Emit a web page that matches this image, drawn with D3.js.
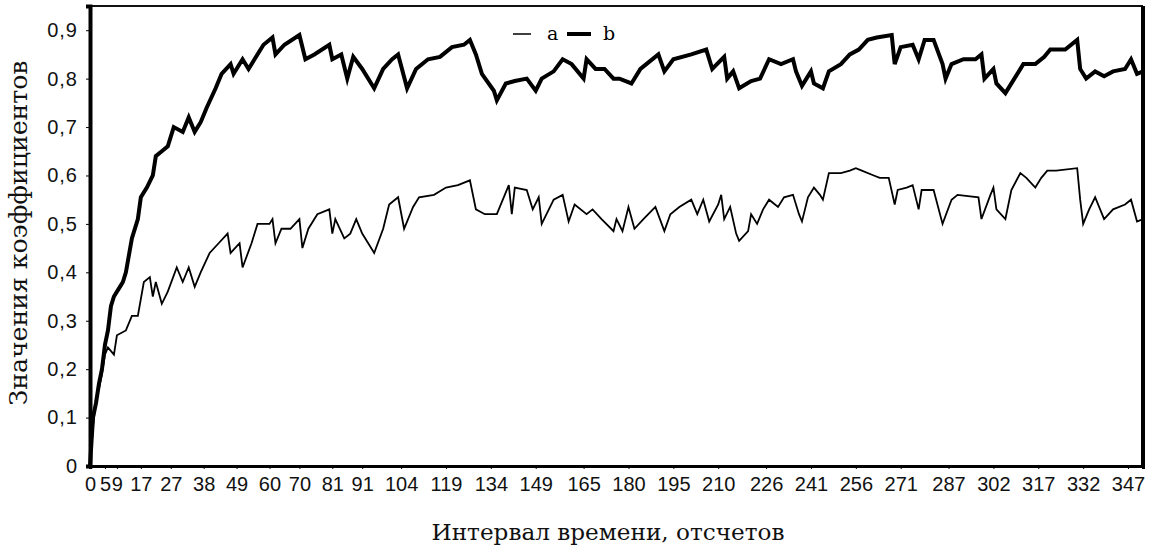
<!DOCTYPE html>
<html>
<head>
<meta charset="utf-8">
<script src="https://cdn.jsdelivr.net/npm/d3@7"></script>
<style>
  body { margin: 0; background: #fff; }
</style>
</head>
<body>
<div id="chart"></div>
<script>
// series "a" (thin line): sample number and coefficient value
const sampleA = [0,1,2,3,4,5,6,8,9,12,14,16,18,20,21,22,24,26,29,31,33,35,37,40,43,46,47,50,51,54,56,60,61,62,64,67,70,71,73,76,80,81,82,85,87,89,91,95,98,100,103,105,108,110,115,119,123,127,129,132,136,138,140,141,142,146,148,150,151,155,158,160,162,166,168,171,175,176,178,180,182,185,189,192,194,197,201,203,205,207,210,211,212,214,216,217,220,221,223,225,227,230,232,235,237,238,240,242,244,245,247,251,254,256,258,262,264,267,269,270,273,275,277,278,282,285,288,290,297,298,301,302,303,306,308,311,313,316,318,320,323,330,331,332,334,336,339,342,346,348,350,352];
const valuesA = [0,0.08,0.14,0.16,0.19,0.23,0.245,0.23,0.27,0.28,0.31,0.31,0.38,0.39,0.35,0.38,0.335,0.36,0.41,0.38,0.41,0.37,0.40,0.44,0.46,0.48,0.44,0.46,0.41,0.46,0.50,0.50,0.51,0.46,0.49,0.49,0.51,0.45,0.49,0.52,0.53,0.48,0.51,0.47,0.48,0.51,0.48,0.44,0.49,0.54,0.555,0.49,0.535,0.555,0.56,0.575,0.58,0.59,0.53,0.52,0.52,0.55,0.58,0.52,0.575,0.57,0.53,0.555,0.50,0.55,0.56,0.505,0.54,0.52,0.53,0.51,0.485,0.51,0.485,0.535,0.49,0.51,0.535,0.485,0.52,0.535,0.55,0.52,0.55,0.505,0.54,0.56,0.51,0.535,0.48,0.465,0.485,0.52,0.50,0.53,0.55,0.535,0.555,0.56,0.52,0.505,0.555,0.575,0.56,0.55,0.605,0.605,0.61,0.615,0.61,0.60,0.595,0.595,0.54,0.57,0.575,0.58,0.53,0.57,0.57,0.50,0.55,0.56,0.555,0.51,0.56,0.575,0.53,0.51,0.57,0.605,0.595,0.575,0.595,0.61,0.61,0.615,0.55,0.50,0.53,0.555,0.51,0.53,0.54,0.55,0.505,0.51];

// series "b" (thick line)
const sampleB = [0,1,2,3,4,5,6,7,8,10,11,12,14,16,17,19,21,22,24,26,28,31,33,35,37,39,42,44,47,48,51,53,55,58,61,62,65,70,72,75,80,81,84,86,88,91,95,98,101,103,106,109,113,117,121,125,127,129,131,135,136,139,142,146,149,151,155,158,161,165,166,169,172,175,177,181,184,190,192,195,201,206,208,212,213,215,217,221,224,227,231,235,236,238,241,242,245,247,251,254,257,260,263,268,269,271,275,277,279,282,285,286,288,292,296,298,299,302,303,306,309,312,316,319,321,326,330,331,333,336,339,342,346,348,350,352];
const valuesB = [0,0.10,0.13,0.17,0.20,0.25,0.28,0.33,0.35,0.37,0.38,0.40,0.47,0.51,0.555,0.575,0.60,0.64,0.65,0.66,0.70,0.69,0.72,0.69,0.71,0.74,0.78,0.81,0.83,0.81,0.84,0.82,0.84,0.87,0.885,0.85,0.87,0.89,0.84,0.85,0.87,0.84,0.85,0.80,0.845,0.82,0.78,0.82,0.84,0.85,0.78,0.82,0.84,0.845,0.865,0.87,0.88,0.85,0.81,0.775,0.755,0.79,0.795,0.80,0.775,0.80,0.815,0.84,0.83,0.80,0.84,0.82,0.82,0.80,0.80,0.79,0.82,0.85,0.815,0.84,0.85,0.86,0.82,0.845,0.80,0.815,0.78,0.795,0.80,0.84,0.83,0.84,0.815,0.785,0.815,0.79,0.78,0.815,0.83,0.85,0.86,0.88,0.885,0.89,0.83,0.865,0.87,0.84,0.88,0.88,0.83,0.80,0.83,0.84,0.84,0.85,0.80,0.82,0.79,0.77,0.80,0.83,0.83,0.845,0.86,0.86,0.88,0.82,0.80,0.815,0.805,0.815,0.82,0.84,0.81,0.815];

const xTicks = [0,5,9,17,27,38,49,60,70,81,91,104,119,134,149,165,180,195,210,226,241,256,271,287,302,317,332,347];
const yTicks = [0,0.1,0.2,0.3,0.4,0.5,0.6,0.7,0.8,0.9];
const yTickLabels = ['0','0,1','0,2','0,3','0,4','0,5','0,6','0,7','0,8','0,9'];
const seriesNames = ['a','b'];

const width = 1154, height = 555;
const margin = {top: 6, right: 11, bottom: 89, left: 90};

const svg = d3.select('#chart').append('svg')
  .attr('width', width)
  .attr('height', height)
  .style('font-family', '"DejaVu Sans", sans-serif');

const x = d3.scaleLinear().domain([0, 352]).range([margin.left, width - margin.right]);
const y = d3.scaleLinear().domain([0, 0.95]).range([height - margin.bottom, margin.top]);

// frame
svg.append('line')
  .attr('x1', margin.left).attr('x2', width - margin.right)
  .attr('y1', margin.top).attr('y2', margin.top)
  .attr('stroke', '#111').attr('stroke-width', 2);
svg.append('line')
  .attr('x1', width - margin.right).attr('x2', width - margin.right)
  .attr('y1', margin.top).attr('y2', height - margin.bottom)
  .attr('stroke', '#000').attr('stroke-width', 4);

// axes
const yAxis = svg.append('g')
  .attr('transform', `translate(${margin.left},0)`)
  .call(d3.axisLeft(y).tickValues(yTicks).tickFormat((d, i) => yTickLabels[i]).tickSize(4).tickPadding(8));
yAxis.select('.domain').attr('stroke-width', 4);
yAxis.selectAll('text').attr('font-size', 20).attr('letter-spacing', 1).attr('fill', '#111');

const xAxis = svg.append('g')
  .attr('transform', `translate(0,${height - margin.bottom})`)
  .call(d3.axisBottom(x).tickValues(xTicks).tickFormat(d3.format('d')).tickSize(3).tickPadding(8));
xAxis.select('.domain').attr('stroke-width', 3);
xAxis.selectAll('text').attr('font-size', 20).attr('fill', '#111');

// lines
const line = d3.line()
  .x(d => x(d[0]))
  .y(d => y(d[1]));

svg.append('path')
  .datum(d3.zip(sampleA, valuesA))
  .attr('fill', 'none')
  .attr('stroke', '#000')
  .attr('stroke-width', 1.8)
  .attr('d', line);

svg.append('path')
  .datum(d3.zip(sampleB, valuesB))
  .attr('fill', 'none')
  .attr('stroke', '#000')
  .attr('stroke-width', 4)
  .attr('d', line);

// legend
const legend = svg.append('g')
  .attr('transform', 'translate(513,34)')
  .style('font-family', '"DejaVu Serif", serif')
  .style('font-size', '19px');
legend.append('line').attr('x1', 0).attr('x2', 18).attr('stroke', '#000').attr('stroke-width', 1.5);
legend.append('text').attr('x', 34).attr('y', 6).text(seriesNames[0]);
legend.append('line').attr('x1', 54).attr('x2', 78).attr('stroke', '#000').attr('stroke-width', 4);
legend.append('text').attr('x', 90).attr('y', 6).text(seriesNames[1]);

// axis titles
svg.append('text')
  .attr('transform', 'translate(27,233) rotate(-90)')
  .attr('text-anchor', 'middle')
  .attr('textLength', 345)
  .attr('lengthAdjust', 'spacingAndGlyphs')
  .style('font-family', '"DejaVu Serif", serif')
  .style('font-size', '25px')
  .attr('fill', '#111')
  .text('Значения коэффициентов');

svg.append('text')
  .attr('x', 608)
  .attr('y', 540)
  .attr('text-anchor', 'middle')
  .attr('textLength', 353)
  .attr('lengthAdjust', 'spacingAndGlyphs')
  .style('font-family', '"DejaVu Serif", serif')
  .style('font-size', '22px')
  .attr('fill', '#111')
  .text('Интервал времени, отсчетов');
</script>
</body>
</html>
